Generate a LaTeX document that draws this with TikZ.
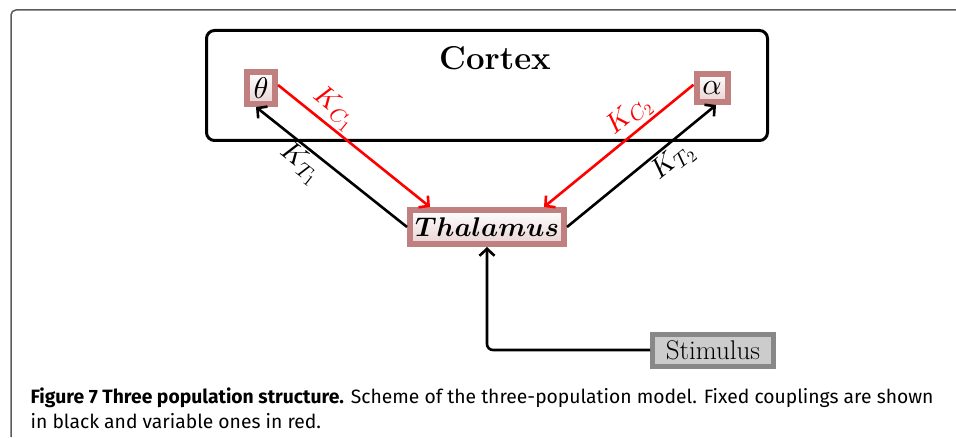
\documentclass[tikz,border=0pt]{standalone}
\usepackage{bm}
\usepackage{fontspec}
\DeclareFontShape{OML}{cmm}{m}{it}{<->cmmi10}{}
\DeclareFontShape{OML}{cmm}{b}{it}{<->cmmib10}{}
\DeclareFontShape{OT1}{cmr}{m}{n}{<->cmr10}{}
\DeclareFontShape{OMS}{cmsy}{m}{n}{<->cmsy10}{}
\DeclareMathSizes{28}{28}{21}{16}
\newfontfamily\capfont{Fira Sans}
\usetikzlibrary{calc,arrows.meta}
\definecolor{popline}{RGB}{192,128,128}
\definecolor{stimline}{RGB}{136,136,136}
\definecolor{stimfill}{RGB}{204,204,204}
\definecolor{framegray}{RGB}{90,90,90}
\begin{document}
\begin{tikzpicture}[x=1pt,y=1pt,>={Straight Barb[length=7pt,width=15pt]},line width=2.6pt,font=\fontsize{27}{27}\selectfont,
  pop/.style={draw=popline,line width=6pt,top color=white,bottom color=popline!35,inner sep=0pt},
  coupling/.style={->,line width=2.6pt},
  lab/.style={sloped,inner sep=2pt,font=\fontsize{28}{28}\selectfont},
  captext/.style={anchor=base west,font=\capfont\fontsize{19.3}{24}\selectfont}]
  \useasboundingbox (0,0) rectangle (956,437);
  % outer frame
  \draw[framegray,line width=1.5pt,rounded corners=5pt] (11,0) -- (11,427) -- (956,427);
  % cortex and populations
  \node[draw,line width=3pt,rounded corners=8pt,minimum width=561pt,minimum height=110pt] (cortex) at (487,351.5) {};
  \node[anchor=base] (cortexlabel) at (495,367) {\fontsize{33}{33}\selectfont\textbf{Cortex}};
  \node[pop,minimum width=28pt,minimum height=32pt,font=\fontsize{30}{30}\selectfont] (theta) at (261,349) {$\theta$};
  \node[pop,minimum width=31pt,minimum height=28pt,font=\fontsize{30}{30}\selectfont] (alpha) at (712,349) {$\alpha$};
  \node[pop,minimum width=154pt,minimum height=34pt] (thalamus) at (487,210) {$\bm{Thalamus}$};
  \node[draw=stimline,fill=stimfill,line width=5pt,minimum width=121pt,minimum height=32pt,inner sep=0pt] (stimulus) at (713,87) {Stimulus};
  % couplings
  \draw[coupling,red] (theta.10) -- node[lab,above,pos=0.3] {$K_{C_1}$} ([xshift=-57pt]thalamus.north);
  \draw[coupling] (thalamus.west) -- node[lab,below,pos=0.64] {$K_{T_1}$} ([xshift=-5pt]theta.south);
  \draw[coupling,red] (alpha.170) -- node[lab,above,pos=0.36] {$K_{C_2}$} ([xshift=57pt]thalamus.north);
  \draw[coupling] (thalamus.east) -- node[lab,below,pos=0.64] {$K_{T_2}$} ([xshift=4pt]alpha.south);
  \draw[coupling,rounded corners=6pt] (stimulus.west) -| (thalamus.south);
  % caption
  \node[captext] (caption) at (26,34) {\textbf{Figure 7 Three population structure.} Scheme of the three-population model. Fixed couplings are shown};
  \node[captext] (captiontail) at (26,9) {in black and variable ones in red.};
\end{tikzpicture}
\end{document}
